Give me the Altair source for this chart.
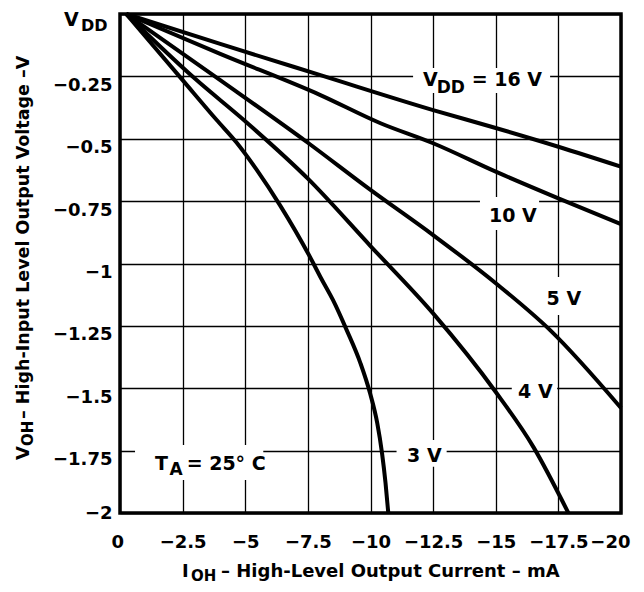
import json
import altair as alt
import pandas as pd

# ---------------- data ----------------
CURVES = ["16 V", "10 V", "5 V", "4 V", "3 V"]

I_16 = [-0.25, -4.0, -8.0, -12.5, -15.0, -17.5, -20.0]
V_16 = [0.0, -0.12, -0.245, -0.385, -0.457, -0.532, -0.612]

I_10 = [-0.25, -4.0, -8.0, -10.4, -12.5, -15.0, -17.5, -20.0]
V_10 = [0.0, -0.16, -0.325, -0.438, -0.518, -0.632, -0.739, -0.842]

I_5 = [-0.25, -4.0, -7.5, -10.0, -12.5, -15.0, -17.17, -20.0]
V_5 = [0.0, -0.265, -0.516, -0.705, -0.886, -1.079, -1.267, -1.579]

I_4 = [-0.25, -3.0, -5.0, -7.5, -10.0, -12.5, -15.0, -16.5, -17.9]
V_4 = [0.0, -0.26, -0.43, -0.66, -0.93, -1.2, -1.515, -1.735, -2.0]

I_3 = [-0.25, -2.5, -3.86, -4.66, -5.46, -6.39, -7.58, -8.0, -8.5, -9.05,
       -9.6, -9.98, -10.27, -10.46, -10.6, -10.71]
V_3 = [0.0, -0.265, -0.425, -0.516, -0.625, -0.767, -0.973, -1.054, -1.146, -1.267,
       -1.40, -1.519, -1.64, -1.76, -1.88, -2.0]

X_TICKS = [0, -2.5, -5, -7.5, -10, -12.5, -15, -17.5, -20]
X_TICK_LABELS = ["0", "−2.5", "−5", "−7.5", "−10", "−12.5", "−15", "−17.5", "−20"]
Y_TICKS = [0, -0.25, -0.5, -0.75, -1, -1.25, -1.5, -1.75, -2]
Y_TICK_LABELS = ["", "−0.25", "−0.5", "−0.75", "−1", "−1.25", "−1.5", "−1.75", "−2"]

# annotation texts (data coordinates of each text run's start / baseline)
MAIN_TEXT = ["V", "= 16 V", "10 V", "5 V", "4 V", "3 V", "T", "= 25° C"]
MAIN_I = [-12.10, -14.04, -14.73, -17.03, -15.89, -11.46, -1.40, -2.66]
MAIN_V = [-0.289, -0.289, -0.8325, -1.166, -1.540, -1.794, -1.828, -1.828]
SUB_TEXT = ["DD", "A"]
SUB_I = [-12.64, -1.98]
SUB_V = [-0.318, -1.848]

# white label backgrounds (data extents)
BOX_I1 = [-11.7, -14.37, -16.77, -15.64, -11.04, -0.6]
BOX_I2 = [-17.17, -16.73, -18.6, -17.45, -13.04, -5.72]
BOX_V1 = [-0.216, -0.733, -1.054, -1.459, -1.707, -1.727]
BOX_V2 = [-0.317, -0.866, -1.206, -1.571, -1.815, -1.868]

# ---------------- tables ----------------
rows = []
for name, xs, ys in zip(CURVES, [I_16, I_10, I_5, I_4, I_3], [V_16, V_10, V_5, V_4, V_3]):
    for k, (a, b) in enumerate(zip(xs, ys)):
        rows.append({"curve": name, "I": a, "V": b, "k": k})
curves_df = pd.DataFrame(rows)
main_df = pd.DataFrame({"I": MAIN_I, "V": MAIN_V, "t": MAIN_TEXT})
sub_df = pd.DataFrame({"I": SUB_I, "V": SUB_V, "t": SUB_TEXT})
box_df = pd.DataFrame({"I": BOX_I1, "I2": BOX_I2, "V": BOX_V1, "V2": BOX_V2})

FONT = "DejaVu Sans"

x_scale = alt.Scale(domain=[0, -20], nice=False, zero=False)
y_scale = alt.Scale(domain=[-2, 0], nice=False, zero=False)

x_axis = alt.Axis(
    values=X_TICKS,
    labelExpr=f"{json.dumps(X_TICK_LABELS, ensure_ascii=False)}[indexof({json.dumps(X_TICKS)}, datum.value)]",
    labelBaseline="top",
    labelPadding=20,
    labelFlush=True,
    labelFlushOffset=9,
    labelOverlap=False,
    grid=True,
)
y_axis = alt.Axis(
    values=Y_TICKS,
    labelExpr=f"{json.dumps(Y_TICK_LABELS, ensure_ascii=False)}[indexof({json.dumps(Y_TICKS)}, datum.value)]",
    labelBaseline={"condition": {"test": "datum.value === -2", "value": "middle"}, "value": "top"},
    labelPadding=8,
    labelOverlap=False,
    labelFlush=False,
    grid=True,
)


def X(field="I"):
    return alt.X(f"{field}:Q", scale=x_scale, axis=x_axis, title=None)


def Y(field="V"):
    return alt.Y(f"{field}:Q", scale=y_scale, axis=y_axis, title=None)


boxes = alt.Chart(box_df).mark_rect(color="white", opacity=1).encode(
    x=X(), x2="I2:Q", y=Y(), y2="V2:Q"
)

lines = alt.Chart(curves_df).mark_line(
    color="black", strokeWidth=4, interpolate="monotone", strokeCap="butt"
).encode(x=X(), y=Y(), detail="curve:N", order="k:Q")

main_txt = alt.Chart(main_df).mark_text(
    align="left", baseline="alphabetic", font=FONT, fontWeight="bold", fontSize=19, color="black"
).encode(x=X(), y=Y(), text="t:N")

sub_txt = alt.Chart(sub_df).mark_text(
    align="left", baseline="alphabetic", font=FONT, fontWeight="bold", fontSize=17, color="black"
).encode(x=X(), y=Y(), text="t:N")


def free_text(text, x, y, size, angle=0, dx=0, dy=0):
    one = pd.DataFrame({"t": [text]})
    kw = dict(align="left", baseline="alphabetic", font=FONT, fontWeight="bold",
              fontSize=size, color="black", dx=dx, dy=dy)
    if angle:
        kw["angle"] = angle
    return alt.Chart(one).mark_text(**kw).encode(
        x=alt.value(x), y=alt.value(y), text="t:N"
    )


# y tick label "VDD" at the top
vdd_v = free_text("V", -56, 12, 19)
vdd_dd = free_text("DD", -39, 17, 16)

# x-axis title
xt1 = free_text("I", 62, 563, 18)
xt2 = free_text("OH", 71, 567, 15)
xt3 = free_text("– High-Level Output Current – mA", 101, 563, 18)

# y-axis title (rotated)
yt1 = free_text("V", -91, 446, 18, angle=270)
yt2 = free_text("OH", -91, 446, 15, angle=270, dx=14, dy=4)
yt3 = free_text("– High-Input Level Output Voltage –V", -91, 446, 17.5, angle=270, dx=41)

chart = alt.layer(
    boxes, lines, main_txt, sub_txt, vdd_v, vdd_dd, xt1, xt2, xt3, yt1, yt2, yt3
).properties(
    width=501,
    height=499,
    padding={"left": 112, "top": 6, "right": 15, "bottom": 71},
    autosize=alt.AutoSizeParams(type="none"),
).configure_view(
    stroke="black", strokeWidth=3.5
).configure_axis(
    gridColor="black", gridWidth=1.3, gridOpacity=1, domain=False, ticks=False, tickSize=0,
    labelFont=FONT, labelFontWeight="bold", labelFontSize=18, labelColor="black",
)

chart.save("out.html", embed_options={"renderer": "svg", "actions": False})
